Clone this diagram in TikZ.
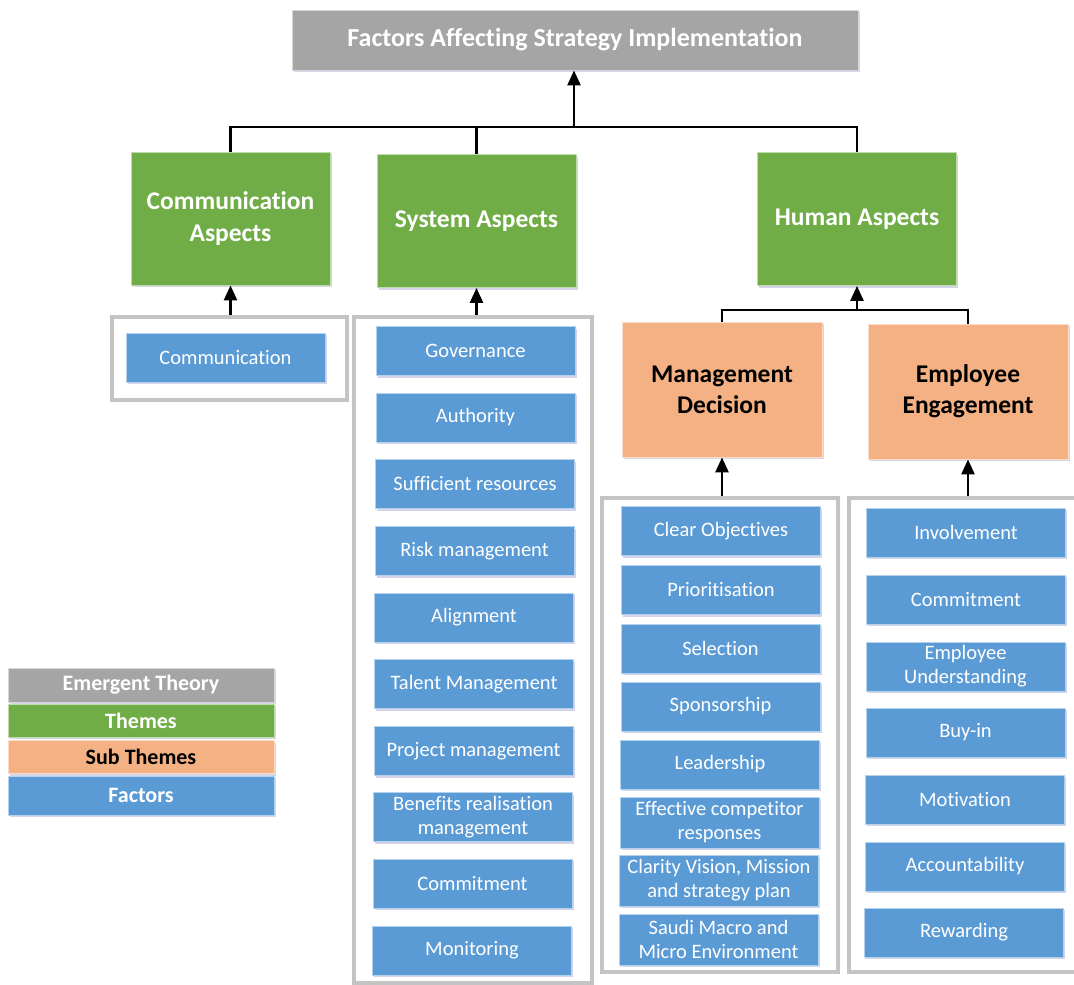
\documentclass[tikz,border=0pt]{standalone}
\usepackage{fontspec}
\setmainfont{Carlito}[Ligatures=NoCommon]
\usetikzlibrary{arrows.meta,shadows}
\definecolor{theorygray}{HTML}{A5A5A5}
\definecolor{themegreen}{HTML}{70AD47}
\definecolor{subpeach}{HTML}{F4B183}
\definecolor{factorblue}{HTML}{5B9BD5}
\definecolor{framegray}{HTML}{C4C4C4}
\begin{document}
\begin{tikzpicture}[x=1pt,y=-1pt,
    box/.style={draw=white!55!#1, line width=0.8pt, fill=#1, text=white, align=center, inner sep=2pt,
        drop shadow={shadow xshift=1.5pt,shadow yshift=-2pt,opacity=0.25,fill=blue!35!gray}},
    factor/.style={box=factorblue, minimum width=199pt, minimum height=49pt, font=\fontsize{20.5}{24}\selectfont},
    theme/.style={box=themegreen, minimum width=199pt, minimum height=133pt, font=\bfseries\fontsize{25.5}{32}\selectfont},
    subtheme/.style={box=subpeach, text=black, minimum width=200pt, minimum height=135pt, font=\bfseries\fontsize{25.5}{31}\selectfont},
    legend/.style={box=#1, minimum width=266pt, font=\bfseries\fontsize{22}{24}\selectfont, drop shadow={opacity=0}},
    frame/.style={draw=framegray, fill=white, line width=4pt,
        drop shadow={shadow xshift=2pt,shadow yshift=-2pt,opacity=0.25,fill=blue!35!gray}},
    link/.style={line width=2.5pt},
    uparrow/.style={link, -{Triangle[width=13pt,length=15pt]}}]
    \useasboundingbox (0,0) rectangle (1074,985);

    % emergent theory
    \node[box=theorygray, minimum width=566pt, minimum height=60pt, font=\bfseries\fontsize{26}{30}\selectfont] (title) at (575,40) {Factors Affecting Strategy Implementation};

    % themes
    \node[theme] (commasp) at (230.5,218.5) {Communication\\Aspects};
    \node[theme] (sysasp) at (476.5,221) {System Aspects};
    \node[theme] (humanasp) at (857,219) {Human Aspects};

    % sub themes
    \node[subtheme] (mgmt) at (722,389.5) {Management\\Decision};
    \node[subtheme] (emp) at (968,391.5) {Employee\\Engagement};

    % frames round the factors
    \node[frame, minimum width=235pt, minimum height=83pt] (commfr) at (229.5,358.5) {};
    \node[frame, minimum width=238pt, minimum height=666pt] (sysfr) at (473,650) {};
    \node[frame, minimum width=236pt, minimum height=474pt] (mgmtfr) at (720,735) {};
    \node[frame, minimum width=227pt, minimum height=474pt] (empfr) at (962.5,735) {};

    % factors
    \node[factor] (comm) at (225.5,357.5) {Communication};

    \node[factor] (gov) at (475.5,351) {Governance};
    \node[factor] (auth) at (475.5,417.5) {Authority};
    \node[factor] (res) at (475,484) {Sufficient resources};
    \node[factor] (risk) at (474.5,551) {Risk management};
    \node[factor] (align) at (474,617.5) {Alignment};
    \node[factor] (talent) at (474,684) {Talent Management};
    \node[factor] (proj) at (473.5,751) {Project management};
    \node[factor] (benef) at (473,817) {Benefits realisation\\management};
    \node[factor] (commit) at (472.5,883.5) {Commitment};
    \node[factor] (monit) at (472,950.5) {Monitoring};

    \node[factor] (clear) at (721,531) {Clear Objectives};
    \node[factor] (prior) at (721,590) {Prioritisation};
    \node[factor] (select) at (720.5,648.5) {Selection};
    \node[factor] (spons) at (720.5,706.5) {Sponsorship};
    \node[factor] (lead) at (720,764.5) {Leadership};
    \node[factor, minimum height=51pt] (compet) at (719.5,822.5) {Effective competitor\\responses};
    \node[factor, minimum height=51pt] (vision) at (719,880.5) {Clarity Vision, Mission\\and strategy plan};
    \node[factor, minimum height=51pt] (saudi) at (718.5,939.5) {Saudi Macro and\\Micro Environment};

    \node[factor] (involve) at (966,532.5) {Involvement};
    \node[factor] (ecommit) at (966,599.5) {Commitment};
    \node[factor] (underst) at (965.5,666.5) {Employee\\Understanding};
    \node[factor] (buyin) at (965.5,732.5) {Buy-in};
    \node[factor] (motiv) at (965,799.5) {Motivation};
    \node[factor] (account) at (965,866.5) {Accountability};
    \node[factor] (reward) at (964,932.5) {Rewarding};

    % legend
    \node[legend=theorygray, minimum height=34pt] (lgtheory) at (141,685) {Emergent Theory};
    \node[legend=themegreen, minimum height=33pt] (lgtheme) at (141,720.5) {Themes};
    \node[legend=subpeach, text=black, minimum height=33pt] (lgsub) at (141,757) {Sub Themes};
    \node[legend=factorblue, minimum height=39pt] (lgfactor) at (141,795.5) {Factors};

    % connectors
    \coordinate (topbus) at (574,127);
    \draw[link] (commasp.north) |- (topbus) -| (humanasp.north);
    \draw[link] (sysasp.north) |- (topbus);
    \draw[uparrow] (topbus) -- (topbus |- title.south);

    \coordinate (humanbus) at (857,310);
    \draw[link] (mgmt.north) |- (humanbus) -| (emp.north);
    \draw[uparrow] (humanbus) -- (humanbus |- humanasp.south);

    \draw[uparrow] (commasp.south |- commfr.north) -- (commasp.south);
    \draw[uparrow] (sysasp.south |- sysfr.north) -- (sysasp.south);
    \draw[uparrow] (mgmt.south |- mgmtfr.north) -- (mgmt.south);
    \draw[uparrow] (emp.south |- empfr.north) -- (emp.south);
\end{tikzpicture}
\end{document}
